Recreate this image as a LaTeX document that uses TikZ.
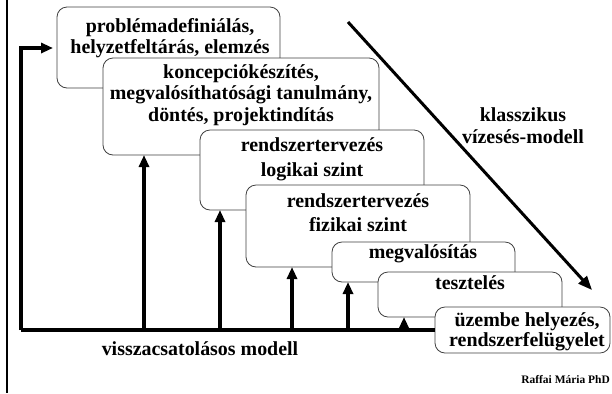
\documentclass[tikz,border=0pt]{standalone}
\usepackage{fontspec}
\setmainfont{Liberation Serif}
\usetikzlibrary{arrows.meta}
\begin{document}
\begin{tikzpicture}[x=1bp,y=-1bp,
  phase/.style={draw=black!75, line width=0.8bp, fill=white, rounded corners=10bp},
  % labels are placed by their top; the strut fixes the first baseline 15bp below it
  lbl/.style={font=\bfseries\fontsize{20}{#1}\selectfont, align=center, inner sep=0pt,
    anchor=north, execute at begin node={\rule{0pt}{15bp}}},
  lbl/.default=22,
  feed/.style={line width=3.5bp, -{Triangle[length=12bp,width=10bp]}},
  bar/.style={line width=3.5bp}]
\useasboundingbox (0,0) rectangle (612,393);
% left page rule
\draw[line width=1.5bp] (7,0) -- (7,393);
% waterfall boxes, each one drawn over the previous
\draw[phase] (57,7) rectangle (280,88);
\draw[phase] (103,58) rectangle (379,155);
\draw[phase] (200,130) rectangle (424,210);
\draw[phase] (246,185) rectangle (470,267);
\draw[phase] (332,242) rectangle (515,282);
\draw[phase] (378,272) rectangle (562,317);
\draw[phase] (435,307) rectangle (610,353);
% box texts
\node[lbl=21] (t1) at (170,18) {problémadefiniálás,\\helyzetfeltárás, elemzés};
\node[lbl=22] (t2) at (241,64) {koncepciókészítés,\\megvalósíthatósági tanulmány,\\döntés, projektindítás};
\node[lbl=26] (t3) at (312,137) {rendszertervezés\\logikai szint};
\node[lbl=25] (t4) at (358,193) {rendszertervezés\\fizikai szint};
\node[lbl] (t5) at (423,243) {megvalósítás};
\node[lbl] (t6) at (470,274) {tesztelés};
\node[lbl=21] (t7) at (527,312) {üzembe helyezés,\\rendszerfelügyelet};
% box bottom points for feedback arrows
\coordinate (e2) at (144,155);
\coordinate (e3) at (220,210);
\coordinate (e4) at (292,267);
\coordinate (e5) at (348,282);
\coordinate (e6) at (404,317);
\coordinate (c7) at (435,330);
\coordinate (cl) at (21,330);
\coordinate (ct) at (21,48);
\coordinate (b1) at (53,48);
% feedback loop
\draw[bar] (c7) -- (cl);
\draw[feed] (cl) -- (ct) -- (b1);
\foreach \p in {e2,e3,e4,e5,e6}
  \draw[feed] (\p |- c7) -- (\p);
% waterfall direction
\coordinate (w1) at (348,22);
\coordinate (w2) at (592,290);
\draw[line width=3bp, -{Triangle[length=14bp,width=11bp]}] (w1) -- (w2);
\node[lbl=23] (wl) at (523,107) {klasszikus\\vízesés-modell};
\node[lbl] (fl) at (200,340) {visszacsatolásos modell};
\node[font=\bfseries\fontsize{11.5}{13}\selectfont, anchor=base east, inner sep=0pt] (au) at (610,383) {Raffai Mária PhD};
\end{tikzpicture}
\end{document}
